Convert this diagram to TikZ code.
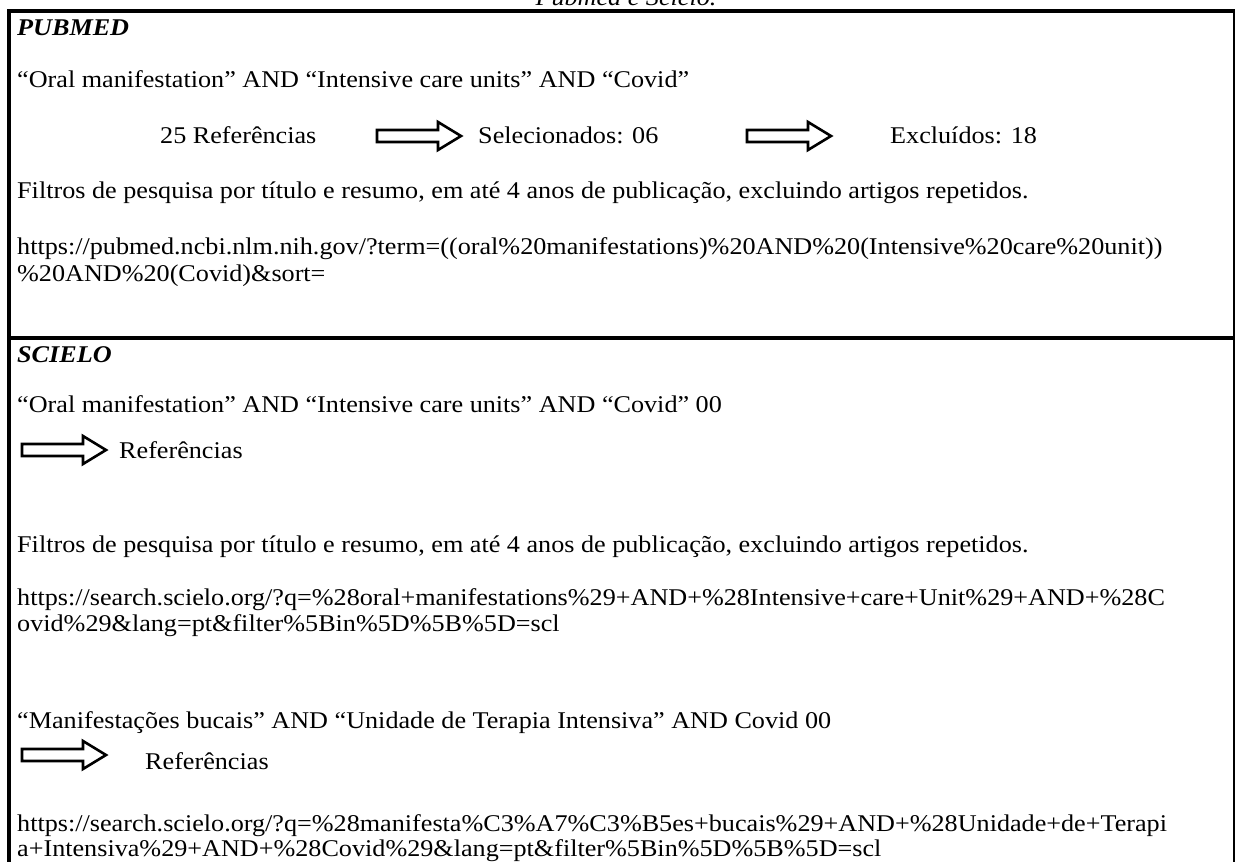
\documentclass[tikz,border=0pt]{standalone}
\usepackage{fontspec}
\setmainfont{Liberation Serif}[FakeStretch=1.09]
\usetikzlibrary{positioning}

\tikzset{
  txt/.style={anchor=base west, inner sep=0pt, font=\fontsize{24}{26}\selectfont},
  boxline/.style={line width=3.5pt},
  thinline/.style={line width=1.2pt},
  blockarrow/.pic={
    \draw[line width=2.6pt, line join=miter, fill=white]
      (0,-6) -- (61,-6) -- (61,-14) -- (84,0) -- (61,14) -- (61,6) -- (0,6) -- cycle;
  }
}

\begin{document}
\begin{tikzpicture}[x=1pt, y=-1pt]
  \useasboundingbox (0,0) rectangle (1238,861);

  % frame of the table
  \draw[boxline] (9,870) -- (9,11) -- (1235,11);
  \draw[thinline] (1234,11) -- (1234,870);
  \draw[boxline] (9,338) -- (1235,338);

  % caption, cut at the top
  \node[txt, anchor=base] (cap) at (626,6) {\itshape Pubmed e Scielo.};

  % Pubmed
  \node[txt] (pubmed) at (17,36) {\bfseries\itshape PUBMED};
  \node[txt] (pquery) at (17,88) {“Oral manifestation” AND “Intensive care units” AND “Covid”};

  \node[txt] (pref) at (160,144) {25 Referências};
  \pic (parrA) at (377,136) {blockarrow};
  \node[txt] (psel) at (478,144) {Selecionados: 06};
  \pic (parrB) at (747,136) {blockarrow};
  \node[txt] (pexc) at (890,144) {Excluídos: 18};

  \node[txt] (pfilter) at (17,198) {Filtros de pesquisa por título e resumo, em até 4 anos de publicação, excluindo artigos repetidos.};
  \node[txt] (purlA) at (17,254) {https://pubmed.ncbi.nlm.nih.gov/?term=((oral\%20manifestations)\%20AND\%20(Intensive\%20care\%20unit))};
  \node[txt] (purlB) at (17,281) {\%20AND\%20(Covid)\&sort=};

  % Scielo
  \node[txt] (scielo) at (17,362) {\bfseries\itshape SCIELO};
  \node[txt] (squeryA) at (17,412) {“Oral manifestation” AND “Intensive care units” AND “Covid” 00};
  \pic (sarrA) at (22,450) {blockarrow};
  \node[txt] (srefA) at (119,458) {Referências};

  \node[txt] (sfilter) at (17,552) {Filtros de pesquisa por título e resumo, em até 4 anos de publicação, excluindo artigos repetidos.};
  \node[txt] (surlA) at (17,605) {https://search.scielo.org/?q=\%28oral+manifestations\%29+AND+\%28Intensive+care+Unit\%29+AND+\%28C};
  \node[txt] (surlB) at (17,631) {ovid\%29\&lang=pt\&filter\%5Bin\%5D\%5B\%5D=scl};

  \node[txt] (squeryB) at (17,728) {“Manifestações bucais” AND “Unidade de Terapia Intensiva” AND Covid 00};
  \pic (sarrB) at (22,755) {blockarrow};
  \node[txt] (srefB) at (145,769) {Referências};

  \node[txt] (surlC) at (17,831) {https://search.scielo.org/?q=\%28manifesta\%C3\%A7\%C3\%B5es+bucais\%29+AND+\%28Unidade+de+Terapi};
  \node[txt] (surlD) at (17,856) {a+Intensiva\%29+AND+\%28Covid\%29\&lang=pt\&filter\%5Bin\%5D\%5B\%5D=scl};
\end{tikzpicture}
\end{document}
